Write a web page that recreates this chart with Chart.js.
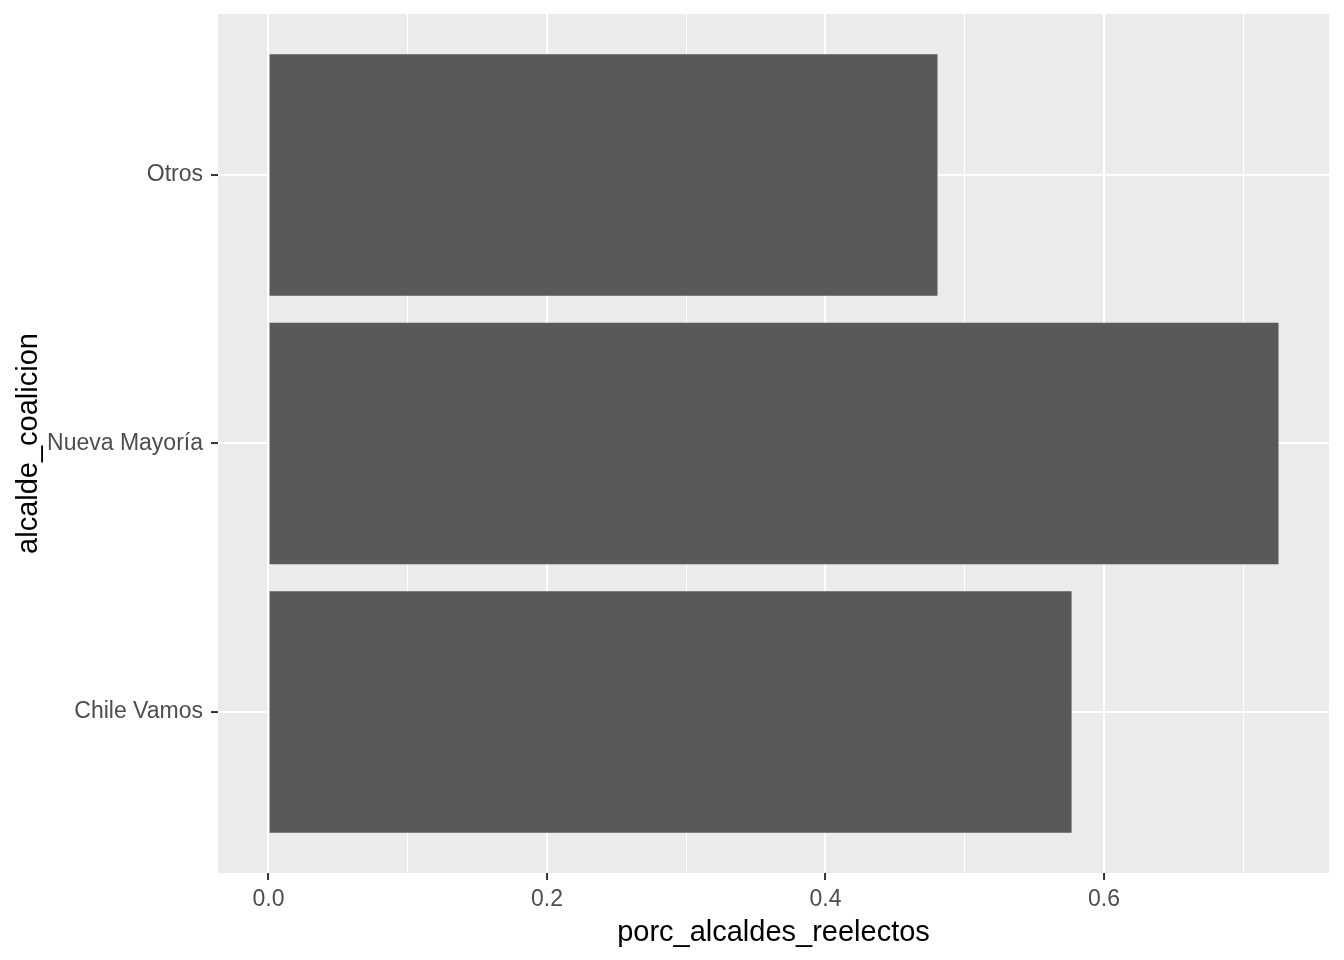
<!DOCTYPE html>
<html>
<head>
<meta charset="utf-8">
<script src="https://cdn.jsdelivr.net/npm/chart.js@4"></script>
<style>
  body { margin: 0; background: #fff; }
  #wrap { width: 1344px; height: 960px; }
</style>
</head>
<body>
<div id="wrap"><canvas id="chart" width="1344" height="960"></canvas></div>
<script>
// data (bottom to top)
const categories = ["Chile Vamos", "Nueva Mayoría", "Otros"];
const reelectos = [0.5767, 0.7253, 0.4804];
const xTicks = [0, 0.1, 0.2, 0.3, 0.4, 0.5, 0.6, 0.7];
const xLabels = ["0.0", "", "0.2", "", "0.4", "", "0.6", ""];

const FONT = "'Liberation Sans', Arial, sans-serif";

// ggplot-like grey panel behind the plot
const panelBg = {
    id: "panelBg",
    beforeDraw(chart) {
        const a = chart.chartArea;
        const ctx = chart.ctx;
        ctx.save();
        ctx.fillStyle = "#EBEBEB";
        ctx.fillRect(a.left, a.top, a.right - a.left, a.bottom - a.top);
        ctx.restore();
    }
};

const isMajor = i => xLabels[i] !== "";

new Chart(document.getElementById("chart"), {
    type: "bar",
    data: {
        datasets: [{
            data: reelectos.map((v, i) => ({ x: v, y: i })),
            backgroundColor: "#595959",
            borderWidth: 0,
            barPercentage: 0.9,
            categoryPercentage: 1.0
        }]
    },
    options: {
        indexAxis: "y",
        responsive: false,
        animation: false,
        layout: { padding: { top: 14, right: 15, left: 0, bottom: 0 } },
        plugins: { legend: { display: false }, tooltip: { enabled: false } },
        scales: {
            x: {
                type: "linear",
                min: -0.03627,
                max: 0.76155,
                afterBuildTicks: s => { s.ticks = xTicks.map(v => ({ value: v })); },
                afterFit: s => { s.height = 87; s.paddingLeft = 0; s.paddingRight = 0; },
                border: { display: false },
                grid: {
                    color: "#FFFFFF",
                    lineWidth: c => isMajor(c.index) ? 2.1 : 1,
                    drawTicks: true,
                    tickLength: 7,
                    tickWidth: 2,
                    tickColor: c => isMajor(c.index) ? "#333333" : "rgba(0,0,0,0)"
                },
                ticks: {
                    autoSkip: false,
                    maxRotation: 0,
                    padding: 6,
                    color: "#4D4D4D",
                    font: { family: FONT, size: 23 },
                    callback: (v, i) => xLabels[i]
                },
                title: {
                    display: true,
                    text: "porc_alcaldes_reelectos",
                    color: "#000000",
                    font: { family: FONT, size: 29 },
                    padding: { top: 0, bottom: 10 }
                }
            },
            y: {
                type: "linear",
                offset: false,
                min: -0.6,
                max: 2.6,
                afterBuildTicks: s => { s.ticks = categories.map((c, i) => ({ value: i })); },
                afterFit: s => { s.width = 218; s.paddingTop = 0; s.paddingBottom = 0; },
                border: { display: false },
                grid: {
                    offset: false,
                    color: "#FFFFFF",
                    lineWidth: 2.1,
                    drawTicks: true,
                    tickLength: 7,
                    tickWidth: 2,
                    tickColor: "#333333"
                },
                ticks: {
                    autoSkip: false,
                    padding: 8,
                    color: "#4D4D4D",
                    font: { family: FONT, size: 23 },
                    callback: v => categories[v]
                },
                title: {
                    display: true,
                    text: "alcalde_coalicion",
                    color: "#000000",
                    font: { family: FONT, size: 29 },
                    padding: { top: 12, bottom: 0 }
                }
            }
        }
    },
    plugins: [panelBg]
});
</script>
</body>
</html>
